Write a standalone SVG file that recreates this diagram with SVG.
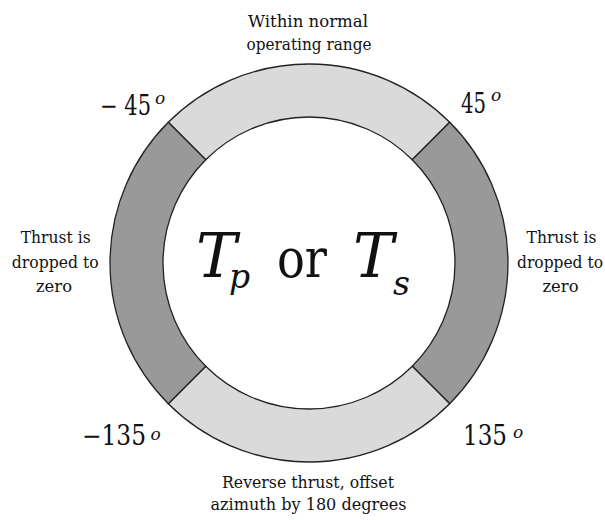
<svg xmlns="http://www.w3.org/2000/svg" width="605" height="520" viewBox="0 0 605 520">
<style>
.seg{stroke:#222;stroke-width:1.3;stroke-linejoin:miter}
.light{fill:#dadada}
.dark{fill:#999999}
text{fill:#111}
.lbl{font-size:17.5px;text-anchor:middle}
.ang{font-size:27px}
.deg{font-size:17px;font-style:italic}
.big{font-size:61px;font-style:italic}
.or{font-size:54px}
.sub{font-size:33px;font-style:italic}
</style>
<rect width="605" height="520" fill="#ffffff"/>
<g id="seg-top">
<path class="seg light" d="M168.29 122.29 A199 199 0 0 1 449.71 122.29 L412.24 159.76 A146 146 0 0 0 205.76 159.76 Z"/>
</g>
<g id="seg-right">
<path class="seg dark" d="M449.71 122.29 A199 199 0 0 1 449.71 403.71 L412.24 366.24 A146 146 0 0 0 412.24 159.76 Z"/>
</g>
<g id="seg-bottom">
<path class="seg light" d="M449.71 403.71 A199 199 0 0 1 168.29 403.71 L205.76 366.24 A146 146 0 0 0 412.24 366.24 Z"/>
</g>
<g id="seg-left">
<path class="seg dark" d="M168.29 403.71 A199 199 0 0 1 168.29 122.29 L205.76 159.76 A146 146 0 0 0 205.76 366.24 Z"/>
</g>
<g font-family="DejaVu Serif, serif">
<g id="center-label">
<text class="big" x="196" y="277">T</text>
<text class="sub" x="229" y="288">p</text>
<text class="or" x="277" y="277" textLength="50" lengthAdjust="spacingAndGlyphs">or</text>
<text class="big" x="353" y="277">T</text>
<text class="sub" x="393" y="295">s</text>
</g>
<g id="label-top">
<text class="lbl" x="308" y="26.5" textLength="120" lengthAdjust="spacingAndGlyphs">Within normal</text>
<text class="lbl" x="309" y="50" textLength="125" lengthAdjust="spacingAndGlyphs">operating range</text>
</g>
<g id="label-left">
<text class="lbl" x="55.7" y="243" textLength="70" lengthAdjust="spacingAndGlyphs">Thrust is</text>
<text class="lbl" x="55.3" y="267.5" textLength="87" lengthAdjust="spacingAndGlyphs">dropped to</text>
<text class="lbl" x="54" y="291.5" textLength="36" lengthAdjust="spacingAndGlyphs">zero</text>
</g>
<g id="label-right">
<text class="lbl" x="561.5" y="243" textLength="70" lengthAdjust="spacingAndGlyphs">Thrust is</text>
<text class="lbl" x="560" y="267.5" textLength="86" lengthAdjust="spacingAndGlyphs">dropped to</text>
<text class="lbl" x="560.5" y="291.5" textLength="36" lengthAdjust="spacingAndGlyphs">zero</text>
</g>
<g id="label-bottom">
<text class="lbl" x="308" y="488" textLength="172" lengthAdjust="spacingAndGlyphs">Reverse thrust, offset</text>
<text class="lbl" x="308.5" y="510" textLength="196" lengthAdjust="spacingAndGlyphs">azimuth by 180 degrees</text>
</g>
<g id="angle-m45">
<text class="ang" x="100" y="115" textLength="51" lengthAdjust="spacingAndGlyphs">− 45</text>
<text class="deg" x="155" y="104">o</text>
</g>
<g id="angle-45">
<text class="ang" x="461" y="113" textLength="25" lengthAdjust="spacingAndGlyphs">45</text>
<text class="deg" x="491" y="101">o</text>
</g>
<g id="angle-m135">
<text class="ang" x="82" y="445" textLength="64" lengthAdjust="spacingAndGlyphs">−135</text>
<text class="deg" x="150.5" y="440">o</text>
</g>
<g id="angle-135">
<text class="ang" x="463" y="445" textLength="44" lengthAdjust="spacingAndGlyphs">135</text>
<text class="deg" x="513" y="438">o</text>
</g>
</g>
</svg>
